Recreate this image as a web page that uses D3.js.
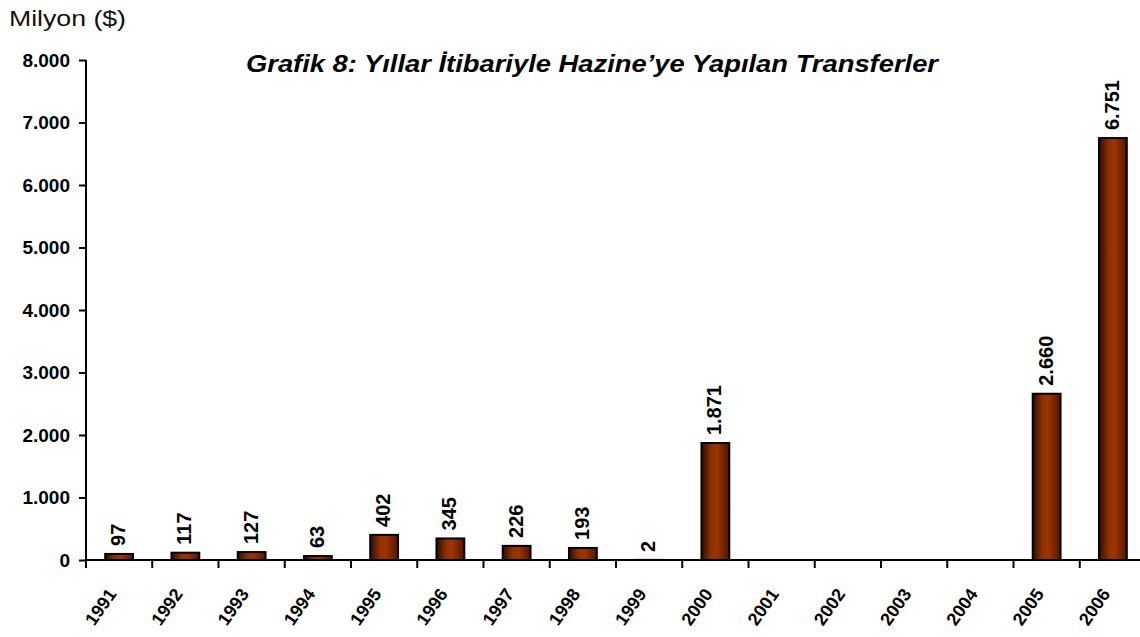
<!DOCTYPE html>
<html>
<head>
<meta charset="utf-8">
<script src="https://cdn.jsdelivr.net/npm/d3@7"></script>
<style>
  body { margin: 0; background: #fff; }
  text { font-family: Arial, "Liberation Sans", sans-serif; }
</style>
</head>
<body>
<div id="chart"></div>
<script>
const years = ["1991", "1992", "1993", "1994", "1995", "1996", "1997", "1998",
               "1999", "2000", "2001", "2002", "2003", "2004", "2005", "2006"];
const transfers = [97, 117, 127, 63, 402, 345, 226, 193, 2, 1871, 0, 0, 0, 0, 2660, 6751];
const yTicks = [0, 1000, 2000, 3000, 4000, 5000, 6000, 7000, 8000];
const titleText = "Grafik 8: Yıllar İtibariyle Hazine’ye Yapılan Transferler";
const unitText = "Milyon ($)";

let totalWidth = 1140, totalHeight = 637;
let margin = {top: 60, left: 86, bottom: 77};
let bandStep = 66.25;
let width = bandStep * years.length;
let height = totalHeight - margin.top - margin.bottom;

const trLocale = d3.formatLocale({decimal: ",", thousands: ".", grouping: [3], currency: ["", "$"]});
const fmt = trLocale.format(",d");

let xScale = d3.scaleBand().domain(years).range([0, width]).paddingInner(0.58).paddingOuter(0.29);
let yScale = d3.scaleLinear().domain([0, 8000]).range([height, 0]);

let svg = d3.select("#chart").append("svg")
        .attr("width", totalWidth)
        .attr("height", totalHeight);

// cylinder-like shading of the bars
let grad = svg.append("defs").append("linearGradient")
        .attr("id", "barFill")
        .attr("x1", "0%").attr("x2", "100%").attr("y1", "0%").attr("y2", "0%");
grad.append("stop").attr("offset", "0%").attr("stop-color", "#2e0c00");
grad.append("stop").attr("offset", "35%").attr("stop-color", "#913000");
grad.append("stop").attr("offset", "55%").attr("stop-color", "#9e3500");
grad.append("stop").attr("offset", "100%").attr("stop-color", "#4e1700");

svg.append("text")
        .attr("x", 9)
        .attr("y", 26)
        .attr("font-size", 22)
        .attr("fill", "#111")
        .attr("textLength", 117)
        .attr("lengthAdjust", "spacingAndGlyphs")
        .text(unitText);

svg.append("text")
        .attr("x", 246)
        .attr("y", 72)
        .attr("font-size", 24)
        .attr("font-weight", "bold")
        .attr("font-style", "italic")
        .attr("textLength", 692)
        .attr("lengthAdjust", "spacingAndGlyphs")
        .text(titleText);

let g = svg.append("g")
        .attr("transform", "translate(" + margin.left + "," + margin.top + ")");

let barData = transfers.map((v, i) => ({year: years[i], value: v})).filter(d => d.value > 0);

// bars
g.selectAll("rect.bar")
        .data(barData)
        .enter().append("rect")
        .attr("class", "bar")
        .attr("x", d => xScale(d.year))
        .attr("y", d => yScale(d.value))
        .attr("width", xScale.bandwidth())
        .attr("height", d => height - yScale(d.value))
        .attr("fill", "url(#barFill)")
        .attr("stroke", "#000")
        .attr("stroke-width", 2);

// value labels
g.selectAll("text.val")
        .data(barData)
        .enter().append("text")
        .attr("class", "val")
        .attr("transform", d => "translate(" + (xScale(d.year) + xScale.bandwidth() / 2 + 6) + "," + (yScale(d.value) - 8) + ") rotate(-90)")
        .attr("font-size", 20)
        .attr("font-weight", "bold")
        .text(d => fmt(d.value));

// y axis
let yAxis = d3.axisLeft(yScale).tickValues(yTicks).tickSize(7).tickPadding(9).tickFormat(d => fmt(d));
let axisY = g.append("g").call(yAxis);
axisY.select(".domain").attr("stroke", "#000").attr("stroke-width", 2).attr("d", "M0," + height + "V0");
axisY.selectAll(".tick line").attr("stroke-width", 2);
axisY.selectAll(".tick text")
        .attr("font-size", 19)
        .attr("font-weight", "bold")
        .attr("fill", "#000")
        .attr("font-family", "Arial, 'Liberation Sans', sans-serif");

// x axis
let axisX = g.append("g").attr("transform", "translate(0," + height + ")");
axisX.append("line")
        .attr("x1", 0).attr("x2", width)
        .attr("stroke", "#000").attr("stroke-width", 2);
axisX.selectAll("line.tick")
        .data(years)
        .enter().append("line")
        .attr("class", "tick")
        .attr("x1", d => xScale(d) - xScale.step() * 0.29)
        .attr("x2", d => xScale(d) - xScale.step() * 0.29)
        .attr("y1", 0).attr("y2", 8)
        .attr("stroke", "#000").attr("stroke-width", 2);
axisX.selectAll("text.year")
        .data(years)
        .enter().append("text")
        .attr("class", "year")
        .attr("transform", d => "translate(" + (xScale(d) + xScale.bandwidth() / 2 - 2) + ",34) rotate(-55)")
        .attr("text-anchor", "end")
        .attr("font-size", 18)
        .attr("font-weight", "bold")
        .text(d => d);
</script>
</body>
</html>
